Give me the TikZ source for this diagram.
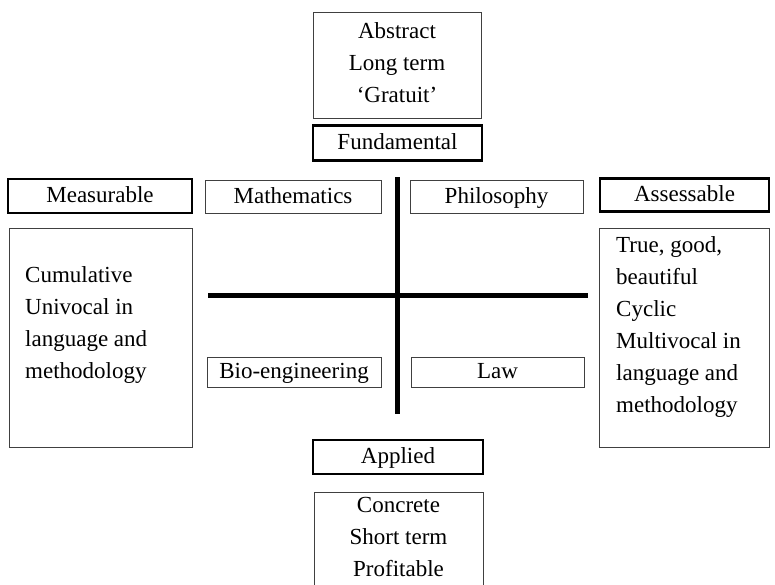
\documentclass[tikz,border=0pt]{standalone}
\usepackage{fontspec}
\setmainfont{Liberation Serif}
\begin{document}
\begin{tikzpicture}[x=1pt,y=-1pt,
  txt/.style={font=\fontsize{23}{32}\selectfont},
  thinbox/.style={txt, draw=black!75, line width=0.8pt, rectangle, inner sep=0pt, align=center},
  boldbox/.style={txt, draw=black, line width=2.2pt, rectangle, inner sep=0pt, align=center},
  oneline/.style={text height=16.5pt, text depth=3.5pt},
  lbl/.style={txt, inner sep=0pt},
  bar/.style={line width=5pt, draw=black}]
\useasboundingbox (0,0) rectangle (775,584);

% top
\node[thinbox, minimum width=168pt, minimum height=106pt] (abstract) at (397,65) {};
\node[lbl, align=center] (abstracttext) at (397,63)
  {Abstract\\Long term\\`Gratuit'};
\node[boldbox, oneline, minimum width=169pt, minimum height=35pt] (fund) at (397.5,143) {Fundamental};

% row of labels
\node[boldbox, oneline, minimum width=184pt, minimum height=34pt] (meas) at (100,196) {Measurable};
\node[thinbox, oneline, minimum width=176pt, minimum height=33pt] (math) at (293,196.5) {Mathematics};
\node[thinbox, oneline, minimum width=173pt, minimum height=33pt] (phil) at (496.5,196.5) {Philosophy};
\node[boldbox, oneline, minimum width=169pt, minimum height=33pt] (assess) at (684.5,195) {Assessable};

% side boxes
\node[thinbox, minimum width=183pt, minimum height=219pt] (leftbox) at (100.5,337.5) {};
\node[lbl, anchor=west, align=left] (lefttext) at (25,324.5)
  {Cumulative\\Univocal in\\language and\\methodology};
\node[thinbox, minimum width=170pt, minimum height=219pt] (rightbox) at (684,337.5) {};
\node[lbl, anchor=west, align=left] (righttext) at (616,327)
  {True, good,\\beautiful\\Cyclic\\Multivocal in\\language and\\methodology};

% cross
\coordinate (vtop) at (397,177);
\coordinate (vbot) at (397,414);
\coordinate (hleft) at (208,295);
\coordinate (hright) at (588,295);
\draw[bar] (vtop) -- (vbot);
\draw[bar] (hleft) -- (hright);

% lower labels
\node[thinbox, oneline, minimum width=174pt, minimum height=30pt] (bio) at (294,372) {Bio-engineering};
\node[thinbox, oneline, minimum width=173pt, minimum height=30pt] (law) at (497.5,372) {Law};

% bottom
\node[boldbox, oneline, minimum width=170pt, minimum height=34pt] (applied) at (398,457) {Applied};
\node[lbl, align=center] (concrete) at (398.5,537) {Concrete\\Short term\\Profitable};
\coordinate (cbl) at (314,590);
\coordinate (ctl) at (314,492);
\coordinate (ctr) at (483,492);
\coordinate (cbr) at (483,590);
\draw[draw=black!75, line width=0.8pt] (cbl) -- (ctl) -- (ctr) -- (cbr);
\end{tikzpicture}
\end{document}
